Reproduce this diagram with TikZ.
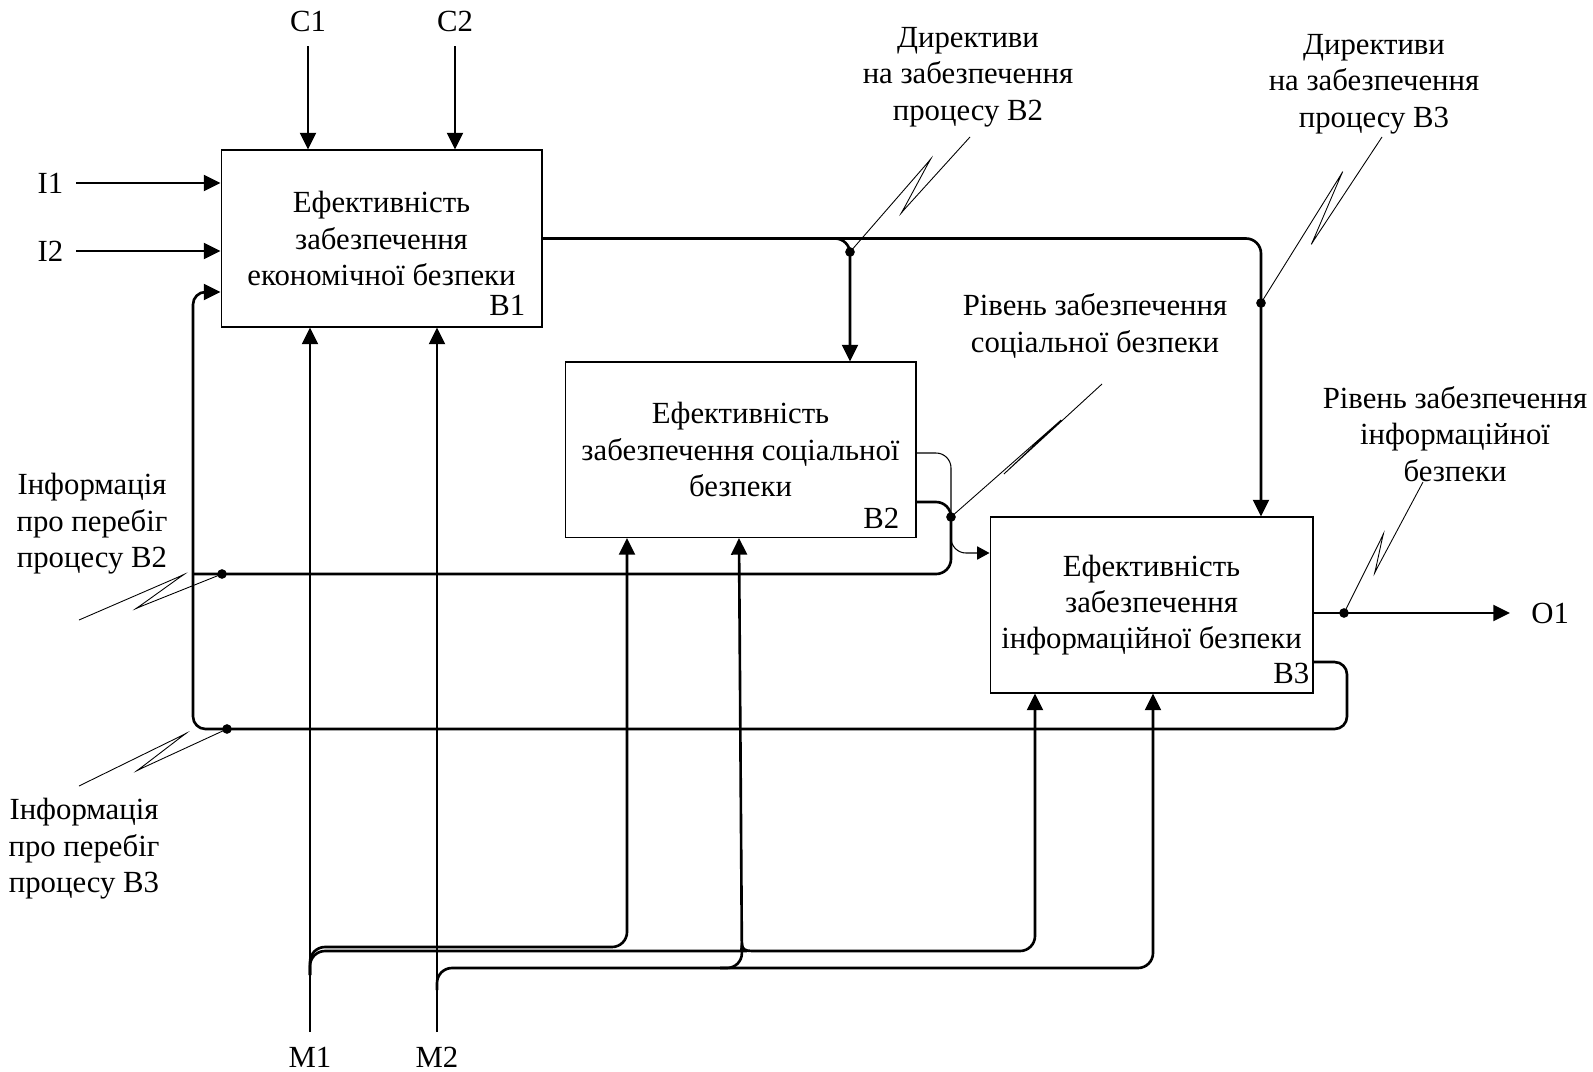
\documentclass[tikz,border=0pt]{standalone}
\usepackage{fontspec}
\setmainfont{Liberation Serif}
\usetikzlibrary{arrows.meta, positioning, calc}

\tikzset{
  func/.style={draw, line width=0.6pt, minimum width=#1, minimum height=3.52cm,
               align=center, inner sep=0pt},
  lbl/.style={align=center, inner sep=2pt},
  boxid/.style={anchor=base east, inner sep=0pt},
  flow/.style={line width=1.5pt, rounded corners=0.3cm,
               -{Triangle[length=9.5pt,width=9pt]}},
  pipe/.style={line width=1.5pt, rounded corners=0.3cm},
  thinflow/.style={line width=0.6pt, rounded corners=0.3cm,
                   -{Triangle[length=7pt,width=7.5pt]}},
  callout/.style={line width=0.5pt},
  joint/.style={circle, fill, inner sep=0pt, minimum size=5.5pt},
}

% zigzag from a joint to the free end: #2 and #3 are the two jumps
\newcommand{\squig}[4]{%
  \path (#1.center) ++(#2) coordinate (sqA) ++(#3) coordinate (sqB);
  \draw[callout] (#1.center) -- ($(sqA)!4pt!(#1.center)$)
    .. controls ($(sqA)!-2.5pt!(#1.center)$) and ($(sqA)!-2.5pt!(sqB)$) .. ($(sqA)!4pt!(sqB)$)
    -- ($(sqB)!4pt!(sqA)$)
    .. controls ($(sqB)!-2.5pt!(sqA)$) and ($(sqB)!-2.5pt!(#4)$) .. ($(sqB)!4pt!(#4)$)
    -- (#4);}

\begin{document}
\begin{tikzpicture}[x=0.02cm, y=-0.02cm, font=\fontsize{17.5pt}{20.7pt}\selectfont]
\useasboundingbox (0,0) rectangle (1593,1072);

% blocks
\node[func=6.42cm, minimum height=3.54cm] (b1) at (381.5,238.5)
  {Ефективність\\забезпечення\\економічної безпеки};
\node[func=7.02cm, minimum height=3.51cm] (b2) at (740.5,449.75)
  {Ефективність\\забезпечення соціальної\\безпеки};
\node[func=6.46cm] (b3) at (1151.5,605)
  {Ефективність\\забезпечення\\інформаційної безпеки};

\node[boxid] (id1) at ([shift={(-17,-12)}]b1.south east) {B1};
\node[boxid] (id2) at ([shift={(-17,-10)}]b2.south east) {B2};
\node[boxid] (id3) at ([shift={(-4,-10)}]b3.south east) {B3};

% controls and inputs
\coordinate (c1end) at (308,46);
\coordinate (c2end) at (455,46);
\node[lbl, above=6pt of c1end] (c1) {C1};
\node[lbl, above=6pt of c2end] (c2) {C2};
\draw[flow] (c1end) -- (c1end |- b1.north);
\draw[flow] (c2end) -- (c2end |- b1.north);

\coordinate (i1end) at (76,183);
\coordinate (i2end) at (76,251);
\node[lbl, left=5pt of i1end] (i1) {I1};
\node[lbl, left=5pt of i2end] (i2) {I2};
\draw[flow] (i1end) -- (i1end -| b1.west);
\draw[flow] (i2end) -- (i2end -| b1.west);

% mechanisms
\coordinate (m1end) at (310,1032);
\coordinate (m2end) at (437,1032);
\node[lbl, below=6.5pt of m1end] (m1) {M1};
\node[lbl, below=6.5pt of m2end] (m2) {M2};
\draw[flow] (m1end) -- (m1end |- b1.south);
\draw[flow] (m2end) -- (m2end |- b1.south);
\draw[flow] (310,975) -- (310,947) -- (627,947) -- (627,0 |- b2.south);
\draw[flow] (310,975) -- (310,951) -- (732,951) [sharp corners]
  .. controls (739,951) and (742,949) .. (742,944)
  .. controls (742,949) and (745,951) .. (752,951) [rounded corners=0.3cm]
  -- (1035,951) -- (1035,0 |- b3.south);
\draw[flow] (437,990) -- (437,968) -- (1153,968) -- (1153,0 |- b3.south);
\draw[flow] (720,968) -- (742,968) -- (739,0 |- b2.south);

% output of B1
\draw[flow] (b1.east) -- (1261,238.5) -- (1261,0 |- b3.north);
\draw[flow] (830,238.5) -- (850,238.5) -- (850,0 |- b2.north);

% outputs of B2
\draw[thinflow] (b2.east |- 0,453) -- (951,453) -- (951,553) -- (b3.west |- 0,553);
\draw[pipe] (b2.east |- 0,502) -- (951,502) -- (951,574) -- (193,574);

% output of B3 and feedback
\coordinate (o1end) at (1510,613);
\node[lbl, right=10pt of o1end] (o1) {O1};
\draw[flow] (b3.east |- o1end) -- (o1end);
\draw[flow, rounded corners=0.25cm] (b3.east |- 0,662) -- (1347,662) -- (1347,729)
  -- (193,729) -- (193,292) -- (b1.west |- 0,292);

% joints
\node[joint] (jDirB2) at (850,252) {};
\node[joint] (jDirB3) at (1261,303) {};
\node[joint] (jSoc) at (951,517) {};
\node[joint] (jInf) at (1344,613) {};
\node[joint] (jInfoB2) at (222,574) {};
\node[joint] (jInfoB3) at (227,729) {};

% arrow labels
\node[lbl] (dirB2) at (968,77) {Директиви\\на забезпечення\\процесу B2};
\node[lbl] (dirB3) at (1374,84) {Директиви\\на забезпечення\\процесу B3};
\node[lbl] (socLvl) at (1095,326) {Рівень забезпечення\\соціальної безпеки};
\node[lbl] (infLvl) at (1455,434) {Рівень забезпечення\\інформаційної\\безпеки};
\node[lbl] (infoB2) at (92,524) {Інформація\\про перебіг\\процесу B2};
\node[lbl] (infoB3) at (84,849) {Інформація\\про перебіг\\процесу B3};

\coordinate (qDirB2) at (970,137);
\coordinate (qDirB3) at (1382,137);
\coordinate (qSoc) at (1102,384);
\coordinate (qInf) at (1423,482);
\coordinate (qInfoB2) at (79,620);
\coordinate (qInfoB3) at (79,786);

% squiggles
\squig{jDirB2}{80,-92}{-28,52}{qDirB2}
\squig{jDirB3}{81,-130}{-30,70}{qDirB3}
\squig{jSoc}{109,-96}{-55,52}{qSoc}
\squig{jInf}{39,-78}{-8,37}{qInf}
\squig{jInfoB2}{-85,34}{46,-33}{qInfoB2}
\squig{jInfoB3}{-89,41}{47,-36}{qInfoB3}

\end{tikzpicture}
\end{document}
